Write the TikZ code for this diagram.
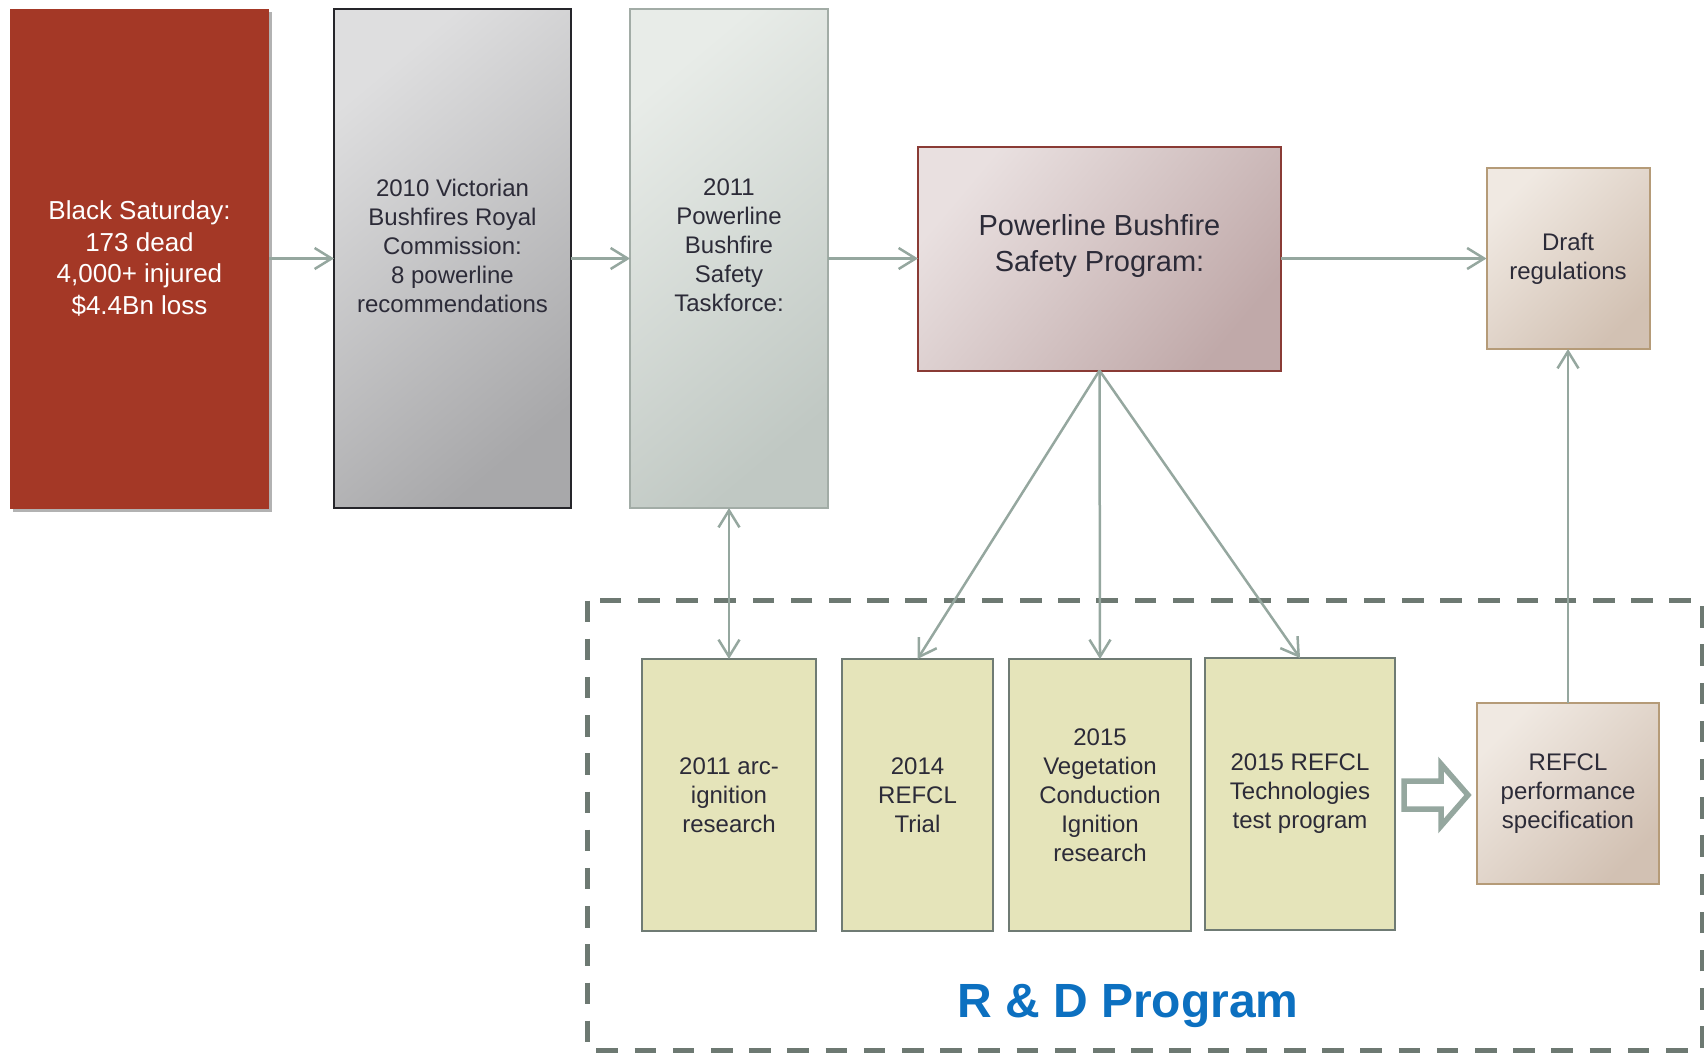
\documentclass[tikz,border=0pt]{standalone}
\usepackage{fontspec}
\setmainfont{Liberation Sans}
\usetikzlibrary{arrows.meta,shadows}

\definecolor{ink}{HTML}{2C2B38}
\definecolor{linkc}{HTML}{95A79F}
\definecolor{dashc}{HTML}{6D7972}
\definecolor{bsred}{HTML}{A43826}
\definecolor{rcA}{HTML}{DEDEDF}
\definecolor{rcB}{HTML}{A8A8AA}
\definecolor{rcE}{HTML}{25252A}
\definecolor{tfA}{HTML}{E8ECE8}
\definecolor{tfB}{HTML}{C0C8C3}
\definecolor{tfE}{HTML}{A2ACA6}
\definecolor{pbA}{HTML}{E9E0E0}
\definecolor{pbB}{HTML}{C0A9A9}
\definecolor{pbE}{HTML}{8A3B35}
\definecolor{drA}{HTML}{F0E9E2}
\definecolor{drB}{HTML}{D2C1B3}
\definecolor{drE}{HTML}{B59B78}
\definecolor{rdfill}{HTML}{E5E4BA}
\definecolor{rdE}{HTML}{6F7B74}
\definecolor{rdblue}{HTML}{0C70C0}

\tikzset{
  box/.style={rectangle, inner sep=0pt, outer sep=0pt, align=center,
    text=ink, font=\fontsize{24}{29}\selectfont},
  txt/.style={inner sep=0pt, align=center, text=ink,
    font=\fontsize{24}{29}\selectfont},
  redbox/.style={box, fill=bsred, text=white,
    font=\fontsize{26}{31.5}\selectfont,
    drop shadow={shadow xshift=3pt, shadow yshift=-3pt, opacity=0.3, fill=black}},
  greybox/.style={box, draw=rcE, line width=2pt,
    top color=rcA, bottom color=rcB, shading angle=40},
  sagebox/.style={box, draw=tfE, line width=2pt,
    top color=tfA, bottom color=tfB, shading angle=40},
  rosebox/.style={box, draw=pbE, line width=2pt,
    top color=pbA, bottom color=pbB, shading angle=50},
  sandbox/.style={box, draw=drE, line width=2pt,
    top color=drA, bottom color=drB, shading angle=45},
  rdbox/.style={box, draw=rdE, line width=2.5pt, fill=rdfill},
  conn/.style={draw=linkc, line width=2.5pt,
    -{Straight Barb[length=17pt,width=21pt,line width=2.5pt]}},
  biconn/.style={draw=linkc, line width=2.5pt,
    {Straight Barb[length=17pt,width=21pt,line width=2.5pt]}-{Straight Barb[length=17pt,width=21pt,line width=2.5pt]}},
}

\begin{document}
\begin{tikzpicture}[x=1pt,y=-1pt]
\useasboundingbox (0,0) rectangle (1704,1052);

% R & D program frame
\draw[dashc, line width=5pt, dash pattern=on 21.5pt off 16.7pt]
  (587.5,600.5) rectangle (1702,1050);
\node (rdtitle) at (1128,1006) [text=rdblue, font=\fontsize{48}{56}\selectfont\bfseries] {R \& D Program};

% top row
\node (bs) at (139.5,258.5) [redbox, minimum width=259pt, minimum height=500pt]
  {Black Saturday:\\173 dead\\4,000+ injured\\\$4.4Bn loss};
\node (rc) at (452.5,258.5) [greybox, minimum width=237pt, minimum height=499pt] {};
\node (rct) at (452.5,245.5) [txt]
  {2010 Victorian\\Bushfires Royal\\Commission:\\8 powerline\\recommendations};
\node (tf) at (729,258.5) [sagebox, minimum width=198pt, minimum height=499pt] {};
\node (tft) at (729,245.5) [txt]
  {2011\\Powerline\\Bushfire\\Safety\\Taskforce:};
\node (pb) at (1099.5,258.5) [rosebox, minimum width=363pt, minimum height=224pt] {};
\node (pbt) at (1099.5,245.5) [txt, font=\fontsize{29}{36}\selectfont]
  {Powerline Bushfire\\Safety Program:};
\node (dr) at (1568,258.5) [sandbox, minimum width=163pt, minimum height=181pt]
  {Draft\\regulations};

% R & D projects
\node (a1) at (729,795) [rdbox, minimum width=174pt, minimum height=272pt]
  {2011 arc-\\ignition\\research};
\node (a2) at (917.5,795) [rdbox, minimum width=151pt, minimum height=272pt]
  {2014\\REFCL\\Trial};
\node (a3) at (1100,795) [rdbox, minimum width=182pt, minimum height=272pt]
  {2015\\Vegetation\\Conduction\\Ignition\\research};
\node (a4) at (1300,794) [rdbox, minimum width=190pt, minimum height=272pt]
  {2015 REFCL\\Technologies\\test program};
\node (sp) at (1568,793.5) [sandbox, minimum width=182pt, minimum height=181pt]
  {REFCL\\performance\\specification};

% hollow block arrow between the test program and the specification
\draw[linkc, line width=5.5pt, fill=white, miter limit=10]
  (1404,781) -- (1441,781) -- (1441,764) -- (1468,795) -- (1441,826)
  -- (1441,809) -- (1404,809) -- cycle;

% connectors
\draw[conn] (bs.east) -- (rc.west);
\draw[conn] (rc.east) -- (tf.west);
\draw[conn] (tf.east) -- (pb.west);
\draw[conn] (pb.east) -- (dr.west);
\draw[biconn] (tf.south) -- (a1.north);
\draw[conn] (pb.south) -- (a2.north);
\draw[conn] (pb.south) -- (a3.north);
\draw[conn] (pb.south) -- (a4.north);
\draw[conn] (sp.north) -- (dr.south);
\end{tikzpicture}
\end{document}
